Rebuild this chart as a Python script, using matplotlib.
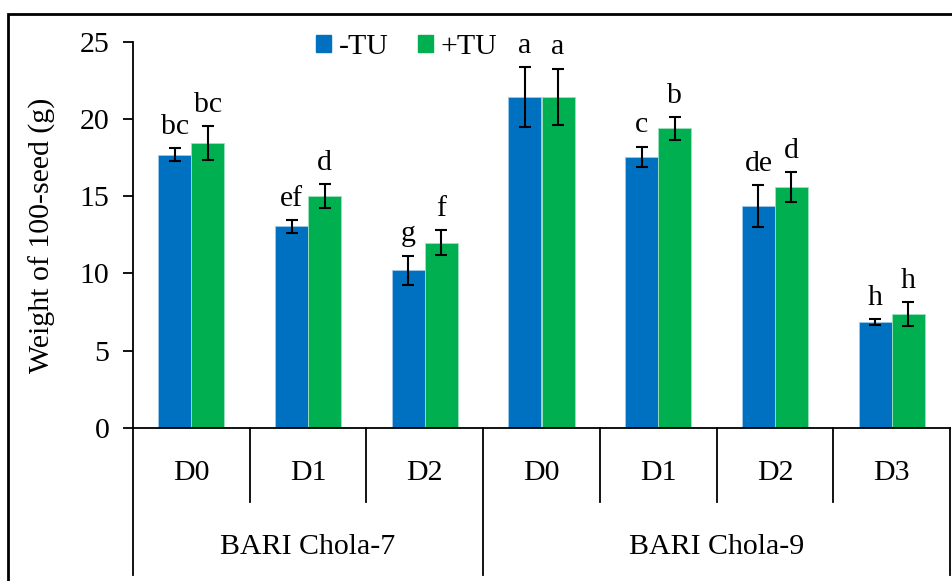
import numpy as np
import matplotlib.pyplot as plt
from matplotlib.patches import Rectangle, Patch

plt.rcParams['font.family'] = ['Liberation Serif', 'DejaVu Serif']

# 100-seed weight (g) by variety and treatment level
varieties = ['BARI Chola-7', 'BARI Chola-9']
levels = [['D0', 'D1', 'D2'], ['D0', 'D1', 'D2', 'D3']]

minus_tu = [17.7, 13.05, 10.2, 21.45, 17.55, 14.35, 6.85]
plus_tu = [18.45, 15.0, 12.0, 21.45, 19.4, 15.6, 7.35]
minus_err = [0.4, 0.4, 0.95, 1.93, 0.66, 1.36, 0.17]
plus_err = [1.1, 0.79, 0.8, 1.83, 0.73, 0.96, 0.77]
minus_sig = ['bc', 'ef', 'g', 'a', 'c', 'de', 'h']
plus_sig = ['bc', 'd', 'f', 'a', 'b', 'd', 'h']

blue = '#0070C0'
green = '#00B050'
fs = 21.5

fig = plt.figure(figsize=(9.53, 5.81), dpi=100)
ax = fig.add_axes([133 / 953, 1 - 427.7 / 581, 817 / 953, 385.7 / 581])

n = len(minus_tu)
x = np.arange(n)
w = 0.283
ekw = dict(ecolor='black', elinewidth=1.5, capsize=4.5, capthick=1.5)
ax.bar(x - w / 2, minus_tu, w, color=blue, edgecolor='#9dc8ea', linewidth=0.6,
       yerr=minus_err, error_kw=ekw, label='-TU', zorder=2)
ax.bar(x + w / 2, plus_tu, w, color=green, edgecolor='#9fe0bd', linewidth=0.6,
       yerr=plus_err, error_kw=ekw, label='+TU', zorder=2)

for xi, v, e, s in zip(x - w / 2, minus_tu, minus_err, minus_sig):
    ax.annotate(s, (xi, v + e), xytext=(0, 6), textcoords='offset points',
                ha='center', va='bottom', fontsize=fs)
for xi, v, e, s in zip(x + w / 2, plus_tu, plus_err, plus_sig):
    ax.annotate(s, (xi, v + e), xytext=(0, 6), textcoords='offset points',
                ha='center', va='bottom', fontsize=fs)

ax.set_xlim(-0.5, n - 0.5)
ax.set_ylim(0, 25)
ax.set_yticks(np.arange(0, 26, 5))
ax.tick_params(axis='y', labelsize=fs, direction='out', length=7, width=1.3, pad=10)
ax.set_xticks([])
for side in ['top', 'right']:
    ax.spines[side].set_visible(False)
ax.spines['left'].set_linewidth(1.3)
ax.spines['bottom'].set_linewidth(1.3)
ax.set_ylabel('Weight of 100-seed (g)', fontsize=fs)
ax.yaxis.set_label_coords(-0.094, 0.5)

# two-level category axis: level labels, variety labels and divider lines
inner_drop = -0.192
outer_drop = -0.381
pos = 0
for var, lv in zip(varieties, levels):
    for j, lab in enumerate(lv):
        ax.text(pos + j, -0.117, lab, transform=ax.get_xaxis_transform(),
                ha='center', va='center', fontsize=fs)
        if j > 0:
            ax.plot([pos + j - 0.5] * 2, [0, inner_drop], color='black', lw=1.3,
                    transform=ax.get_xaxis_transform(), clip_on=False)
    ax.text(pos + (len(lv) - 1) / 2, -0.309, var, transform=ax.get_xaxis_transform(),
            ha='center', va='center', fontsize=fs)
    ax.plot([pos - 0.5] * 2, [0, outer_drop], color='black', lw=1.3,
            transform=ax.get_xaxis_transform(), clip_on=False)
    pos += len(lv)
ax.plot([pos - 0.5] * 2, [0, outer_drop], color='black', lw=1.3,
        transform=ax.get_xaxis_transform(), clip_on=False)

handles = [Patch(color=blue, label='-TU'), Patch(color=green, label='+TU')]
ax.legend(handles=handles, loc='upper left', bbox_to_anchor=(316 / 953, 1 - 34 / 581),
          bbox_transform=fig.transFigure, ncol=2, frameon=False, fontsize=fs,
          handlelength=0.5, handleheight=0.5, handletextpad=0.25, columnspacing=1.0,
          borderpad=0, borderaxespad=0)

# outer frame around the figure
fig.patches.append(Rectangle((8 / 953, -0.05), 1.1, 1 - 14 / 581 + 0.05,
                             transform=fig.transFigure, fill=False,
                             edgecolor='black', lw=2, zorder=0))

fig.savefig('out.png', dpi=100)
